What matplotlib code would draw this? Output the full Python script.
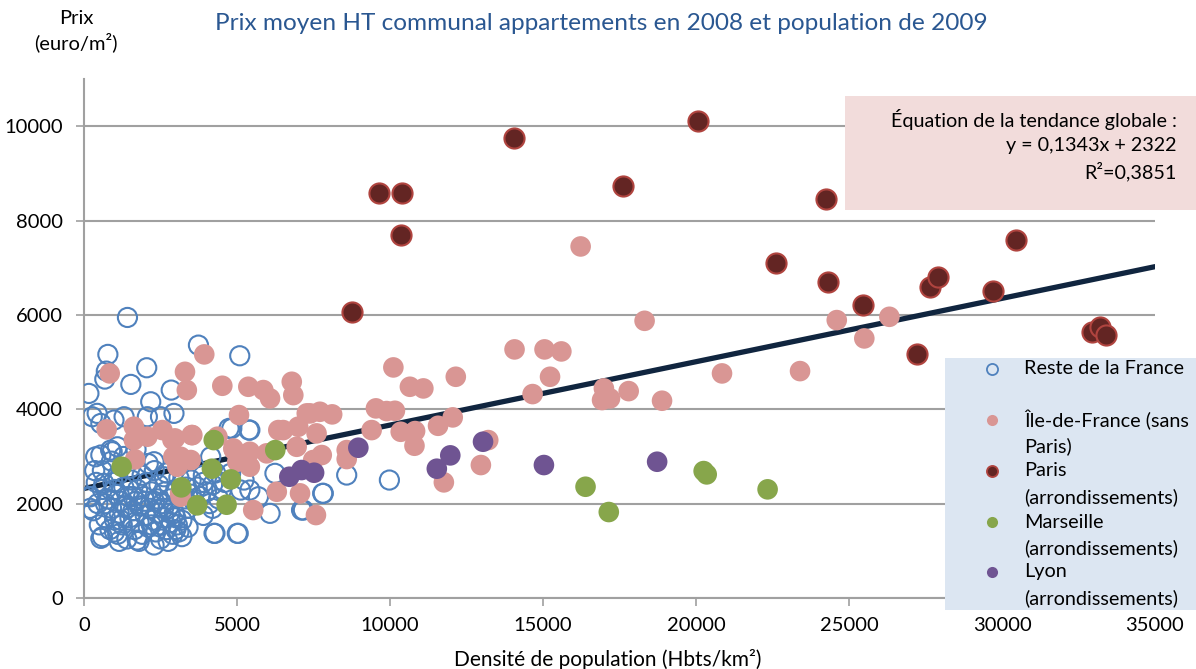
import matplotlib
matplotlib.use("Agg")
import matplotlib.pyplot as plt
from matplotlib.patches import Rectangle
from matplotlib.lines import Line2D

plt.rcParams['font.family'] = ['Lato', 'DejaVu Sans']

# Reste de la France (x = densité, y = prix)
reste_x = [1420, 3740, 5090, 780, 2050, 730, 680, 1530, 160, 2850, 2180, 2940, 430, 1310, 270,
           550, 980, 2070, 2500, 4740, 5390, 550, 920, 1090, 220, 650, 4250, 5010, 550, 1740,
           2290, 5120, 5230, 4830, 5420, 6240, 7820, 7170, 6080, 5040, 4280, 5420, 5700, 8585,
           9980, 7800, 7110, 380, 870, 2290, 2610, 4140, 4790,
           150, 300, 450, 500, 600, 700, 800, 850, 900, 950, 1000, 1050, 1100, 1150, 1200, 1250,
           1300, 1350, 1400, 1450, 1500, 1550, 1600, 1650, 1700, 1750, 1800, 1850, 1900, 1950,
           2000, 2050, 2100, 2150, 2200, 2250, 2300, 2350, 2400, 2450, 2500, 2550, 2600, 2650,
           2700, 2750, 2800, 2850, 2900, 2950, 3000, 3050, 3100, 3200, 3300, 3400, 3500, 3600,
           3700, 3800, 3900, 4000, 4100, 4200, 4400, 4500,
           700, 1000, 1200, 1400, 1600, 1800, 2000, 2200, 2400, 2600, 2800, 3000, 1100, 1500,
           1900, 2300, 2700, 3100, 3500, 600, 400, 900, 1300, 1700, 2100, 3900, 4300, 4600,
           2500, 3200, 1800, 1000, 600, 3400, 3900, 4200, 200, 350, 1150, 2750, 3000, 3350]
reste_y = [5946, 5360, 5134, 5163, 4880, 4809, 4640, 4527, 4336, 4407, 4159, 3913, 3913, 3842, 3842,
           3700, 3771, 3842, 3842, 3595, 3559, 3030, 3100, 3205, 2146, 2430, 1370, 1370, 1264, 1229,
           1123, 2288, 2500, 3595, 3559, 2642, 2218, 1864, 1794, 1370, 1370, 2288, 2146, 2606,
           2500, 2218, 1864, 2993, 3135, 2888, 2570, 2993, 2642,
           2150, 1850, 2000, 1550, 2300, 1700, 2100, 1450, 1900, 2450, 1650, 2200, 1350, 1800, 2050, 1550,
           2350, 1950, 1250, 2150, 1700, 2500, 1850, 1450, 2050, 2300, 1600, 1950, 1350, 2150,
           1750, 2450, 1500, 1900, 2250, 1650, 2050, 1400, 1800, 2400, 1550, 2000, 1700, 2250,
           1450, 1900, 2100, 1600, 1350, 1800, 2300, 1550, 1400, 1650, 2100, 1900, 2200, 2050,
           2350, 2150, 2450, 2250, 2000, 2400, 2100, 2300,
           2000, 2300, 1650, 1900, 2150, 1950, 2050, 1550, 2100, 1900, 1800, 1700, 2600, 2750,
           2600, 2700, 2650, 2550, 2500, 2700, 2450, 2900, 3000, 3150, 2850, 2600, 2650, 2450,
           1250, 1300, 1200, 1400, 1300, 1500, 1750, 1900, 1900, 2700, 1200, 1200, 1450, 2350]

# Île-de-France (sans Paris)
idf_x = [16230, 18320, 14070, 15050, 15600, 15230, 14660, 16990, 16930, 17190, 17800, 18890,
         20850, 23400, 24600, 25500, 26320, 10110, 10650, 11090, 12150, 9540, 9890, 10160,
         9400, 10350, 10820, 10800, 11570, 12050, 13210, 12970, 11760, 8585, 8585, 7580,
         6790, 6840, 7710, 8110, 7280, 7000, 7600, 7770, 7060, 6510,
         3930, 3300, 3360, 4520, 5370, 5860, 6080, 5065, 7390, 6350, 2970, 3520, 4880, 5420,
         5010, 5420, 5970, 6950, 7490, 6300, 5530, 3140, 2920,
         840, 740, 1630, 1630, 2070, 2560, 2890, 3540, 1670, 3160, 3050, 3490, 4360, 4900, 3160]
idf_y = [7451, 5875, 5269, 5269, 5226, 4689, 4322, 4442, 4195, 4230, 4385, 4181,
         4760, 4809, 5890, 5502, 5960, 4887, 4477, 4442, 4689, 4019, 3962, 3968,
         3559, 3523, 3538, 3227, 3650, 3828, 3347, 2818, 2451, 2945, 3135, 1758,
         4583, 4300, 3947, 3892, 3913, 3630, 3489, 3030, 2218, 3559,
         5163, 4794, 4407, 4498, 4477, 4407, 4230, 3877, 3913, 3559, 3383, 3453, 3171, 3100,
         2888, 2782, 3066, 3205, 2924, 2252, 1864, 2218, 2993,
         4760, 3574, 3630, 3347, 3418, 3559, 3354, 3453, 2938, 2993, 2782, 2924, 3418, 3135, 2146]

# Paris (arrondissements)
paris_x = [20070, 14050, 9630, 10380, 10350, 17625, 24240, 8758, 22630, 24320, 25460,
           27650, 27900, 29700, 30460, 27210, 32940, 33200, 33400]
paris_y = [10113, 9752, 8587, 8580, 7697, 8735, 8447, 6053, 7090, 6695, 6207,
           6595, 6807, 6500, 7585, 5163, 5642, 5750, 5572]

# Marseille (arrondissements)
marseille_x = [1230, 4240, 4180, 4800, 3180, 3700, 4660, 6250, 16390, 17150, 20250, 20350, 22340]
marseille_y = [2782, 3347, 2740, 2514, 2345, 1964, 1977, 3135, 2358, 1822, 2690, 2620, 2303]

# Lyon (arrondissements)
lyon_x = [6710, 7110, 7520, 8965, 11530, 11970, 13040, 15030, 18730]
lyon_y = [2570, 2712, 2655, 3185, 2740, 3023, 3312, 2818, 2888]

# tendance globale y = 0,1343x + 2322
trend_a = 0.1343
trend_b = 2322
trend_x = [0, 35000]

legend_labels = [["Reste de la France"], ["Île-de-France (sans", "Paris)"],
                 ["Paris", "(arrondissements)"], ["Marseille", "(arrondissements)"],
                 ["Lyon", "(arrondissements)"]]

fig = plt.figure(figsize=(11.96, 6.69), dpi=100)
ax = fig.add_axes([84 / 1196, 1 - 598 / 669, (1155 - 84) / 1196, (598 - 79) / 669])

grid_col = '#A0A0A0'
ax.plot(trend_x, [trend_a * x + trend_b for x in trend_x], color='#10253F', lw=3.8,
        zorder=2, solid_capstyle='round')
ax.scatter(reste_x, reste_y, s=190, facecolors='none', edgecolors='#4F81BD', linewidths=1.5, zorder=3)
ax.scatter(idf_x, idf_y, s=220, color='#D99694', edgecolors='none', zorder=4)
ax.scatter(paris_x, paris_y, s=210, color='#632523', edgecolors='#B0443F', linewidths=1.5, zorder=5)
ax.scatter(marseille_x, marseille_y, s=220, color='#87A64B', edgecolors='none', zorder=6)
ax.scatter(lyon_x, lyon_y, s=220, color='#6F5492', edgecolors='none', zorder=7)

ax.set_xlim(0, 35000)
ax.set_ylim(0, 11000)
ax.set_xticks(range(0, 35001, 5000))
ax.set_yticks(range(0, 10001, 2000))
ax.grid(axis='y', color=grid_col, lw=1.5)
ax.set_axisbelow(True)
for s in ['top', 'right']:
    ax.spines[s].set_visible(False)
for s in ['left', 'bottom']:
    ax.spines[s].set_color(grid_col)
    ax.spines[s].set_linewidth(1.5)
ax.tick_params(colors=grid_col, length=6, width=1.2, labelsize=14.5, labelcolor='black')
ax.tick_params(axis='y', pad=9)
ax.tick_params(axis='x', pad=8)

fig.text(608 / 1196, 1 - 659 / 669, "Densité de population (Hbts/km²)", ha='center', va='center', fontsize=15)
fig.text(76 / 1196, 1 - 31 / 669, "Prix\n(euro/m²)", ha='center', va='center', fontsize=14.5, linespacing=1.3)
fig.text(601 / 1196, 1 - 24 / 669, "Prix moyen HT communal appartements en 2008 et population de 2009",
         ha='center', va='center', fontsize=17.6, color='#2A5791')

# encadré équation
fig.add_artist(Rectangle((845 / 1196, 1 - 210 / 669), (1196 - 845) / 1196, 114 / 669,
                         transform=fig.transFigure, facecolor='#F2DCDB', edgecolor='none', zorder=10))
for txt, yy in [("Équation de la tendance globale :", 119), ("y = 0,1343x + 2322", 146), ("R²=0,3851", 172)]:
    fig.text(1177 / 1196, 1 - yy / 669, txt, ha='right', va='center', fontsize=14.2, zorder=11)

# légende
fig.add_artist(Rectangle((945 / 1196, 1 - 610 / 669), (1196 - 945) / 1196, 252 / 669,
                         transform=fig.transFigure, facecolor='#DCE6F2', edgecolor='none', zorder=10))
leg_style = [dict(mfc='none', mec='#4F81BD', mew=1.3),
             dict(mfc='#D99694', mec='#D99694', mew=0),
             dict(mfc='#632523', mec='#B0443F', mew=1.3),
             dict(mfc='#87A64B', mec='#87A64B', mew=0),
             dict(mfc='#6F5492', mec='#6F5492', mew=0)]
leg_y = [369, 420, 471, 522, 572]
for lines, st, yy in zip(legend_labels, leg_style, leg_y):
    fig.add_artist(Line2D([992 / 1196], [1 - yy / 669], transform=fig.transFigure, marker='o',
                          ms=8, ls='none', zorder=11, **st))
    for k, ln in enumerate(lines):
        fig.text(1024 / 1196, 1 - (yy + 26 * k) / 669, ln, ha='left', va='center', fontsize=14.3, zorder=11)

fig.savefig('out.png', dpi=100)
